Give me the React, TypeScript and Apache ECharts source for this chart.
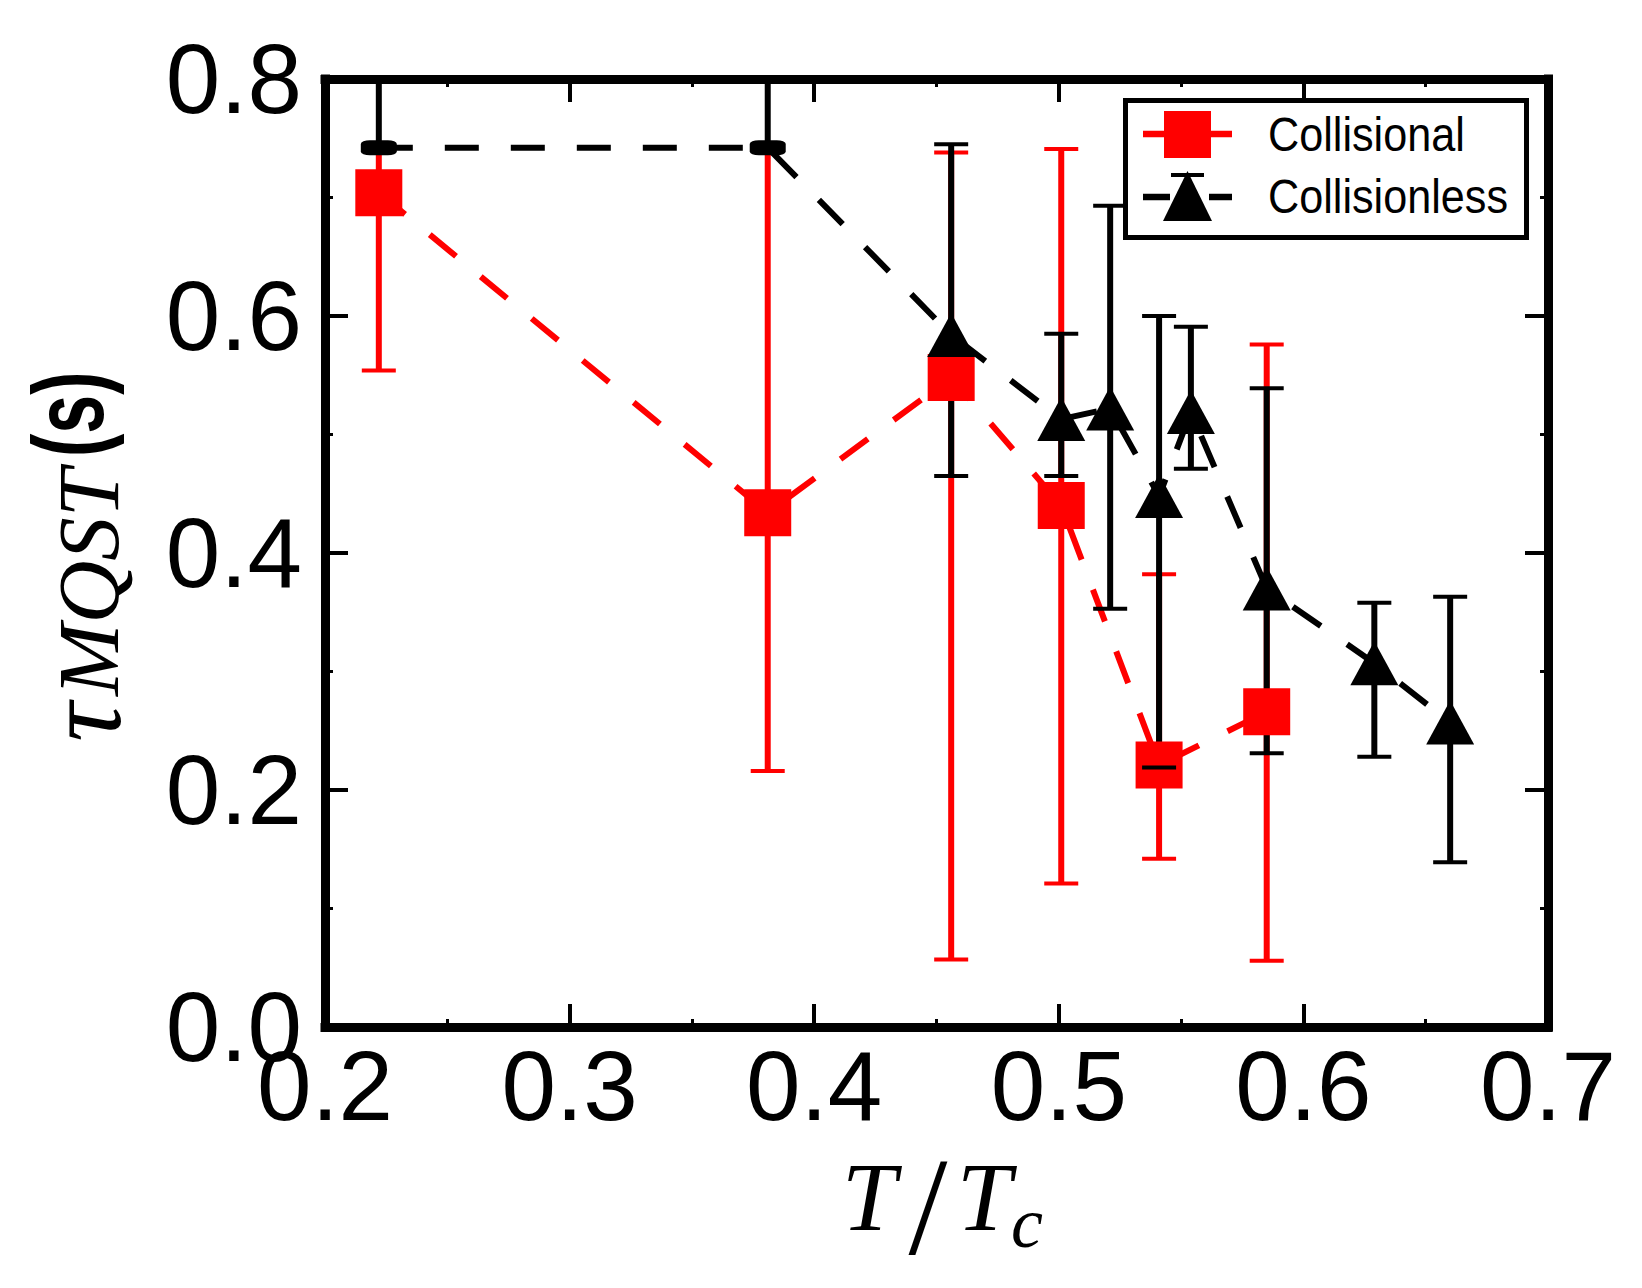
import React, { useEffect, useRef } from 'react';
import * as echarts from 'echarts';

// ---- data ----
const xTicksMin = 0.2;
const xTicksMax = 0.7;
const yTicksMin = 0.0;
const yTicksMax = 0.8;

// Collisional (red squares)
const xRed = [0.222, 0.381, 0.456, 0.501, 0.541, 0.585];
const yRed = [0.704, 0.434, 0.548, 0.440, 0.221, 0.266];
const redLow = [0.554, 0.216, 0.057, 0.121, 0.142, 0.056];
const redHigh = [0.742, 0.742, 0.738, 0.741, 0.382, 0.576];

// Collisionless (black triangles)
const xBlack = [0.222, 0.381, 0.456, 0.501, 0.521, 0.541, 0.554, 0.585, 0.629, 0.660];
const yBlack = [0.742, 0.742, 0.584, 0.513, 0.522, 0.448, 0.519, 0.370, 0.307, 0.257];
const blackLow = [0.742, 0.742, 0.465, 0.465, 0.353, 0.219, 0.471, 0.231, 0.228, 0.139];
const blackHigh = [0.9, 0.9, 0.745, 0.585, 0.693, 0.600, 0.591, 0.539, 0.358, 0.363];
const blackMarker = ['flat', 'flat', 'tri', 'tri', 'tri', 'tri', 'tri', 'tri', 'tri', 'tri'];

const seriesNames = ['Collisional', 'Collisionless'];

const RED = '#ff0000';
const BLACK = '#000000';
const SANS = 'Liberation Sans';
const SERIF = 'Liberation Serif';

function errRender(color: string, stem: boolean, cap: boolean) {
  return (params: any, api: any) => {
    const x = api.value(0);
    const lo = api.value(1);
    const hi = api.value(2);
    const loC = Math.max(lo, yTicksMin);
    const hiC = Math.min(hi, yTicksMax);
    const pLo = api.coord([x, loC]);
    const pHi = api.coord([x, hiC]);
    const children: any[] = [];
    if (stem) {
      children.push({
        type: 'line',
        shape: { x1: pLo[0], y1: pLo[1], x2: pHi[0], y2: pHi[1] },
        style: { stroke: color, lineWidth: 6 },
      });
    }
    if (cap) {
      const hw = 17;
      if (hi <= yTicksMax) {
        children.push({
          type: 'line',
          shape: { x1: pHi[0] - hw, y1: pHi[1], x2: pHi[0] + hw, y2: pHi[1] },
          style: { stroke: color, lineWidth: 4 },
        });
      }
      if (lo >= yTicksMin) {
        children.push({
          type: 'line',
          shape: { x1: pLo[0] - hw, y1: pLo[1], x2: pLo[0] + hw, y2: pLo[1] },
          style: { stroke: color, lineWidth: 4 },
        });
      }
    }
    return { type: 'group', children };
  };
}

export default function App() {
  const ref = useRef<HTMLDivElement>(null);

  useEffect(() => {
    const chart = echarts.init(ref.current as HTMLDivElement, null, { renderer: 'svg' });

    const redErrData = xRed.map((x, i) => [x, redLow[i], redHigh[i]]);
    const blackErrData = xBlack.map((x, i) => [x, blackLow[i], blackHigh[i]]);
    const redData = xRed.map((x, i) => [x, yRed[i]]);
    const blackData = xBlack.map((x, i) =>
      blackMarker[i] === 'flat'
        ? { value: [x, yBlack[i]], symbol: 'roundRect', symbolSize: [36, 15] }
        : { value: [x, yBlack[i]] }
    );

    const axisCommon = {
      axisLine: { show: true, onZero: false, lineStyle: { color: BLACK, width: 9, cap: 'square' } },
      axisTick: { show: true, inside: true, length: 23, lineStyle: { color: BLACK, width: 4 } },
      minorTick: { show: true, splitNumber: 2, length: 8, lineStyle: { color: BLACK, width: 3 } },
      splitLine: { show: false },
      minorSplitLine: { show: false },
    };

    const labelStyle = {
      color: BLACK,
      fontFamily: SANS,
      fontSize: 98,
      formatter: (v: number) => v.toFixed(1),
    };

    const option: any = {
      animation: false,
      backgroundColor: '#ffffff',
      grid: { left: 325, right: 94, top: 79, bottom: 261, containLabel: false },
      xAxis: [
        {
          type: 'value', min: xTicksMin, max: xTicksMax, interval: 0.1, position: 'bottom',
          ...axisCommon,
          axisLabel: { ...labelStyle, margin: 10 },
        },
        {
          type: 'value', min: xTicksMin, max: xTicksMax, interval: 0.1, position: 'top',
          ...axisCommon,
          axisLabel: { show: false },
        },
      ],
      yAxis: [
        {
          type: 'value', min: yTicksMin, max: yTicksMax, interval: 0.2, position: 'left',
          ...axisCommon,
          axisLabel: { ...labelStyle, margin: 23 },
        },
        {
          type: 'value', min: yTicksMin, max: yTicksMax, interval: 0.2, position: 'right',
          ...axisCommon,
          axisLabel: { show: false },
        },
      ],
      series: [
        {
          type: 'custom', name: seriesNames[0] + ' error', z: 1,
          xAxisIndex: 0, yAxisIndex: 0,
          renderItem: errRender(RED, true, true),
          encode: { x: 0, y: [1, 2] },
          data: redErrData,
          silent: true,
        },
        {
          type: 'custom', name: seriesNames[1] + ' error stem', z: 2,
          xAxisIndex: 0, yAxisIndex: 0,
          renderItem: errRender(BLACK, true, false),
          encode: { x: 0, y: [1, 2] },
          data: blackErrData,
          silent: true,
        },
        {
          type: 'line', name: seriesNames[0], z: 3,
          xAxisIndex: 0, yAxisIndex: 0,
          data: redData,
          symbol: 'rect', symbolSize: 47,
          itemStyle: { color: RED, borderWidth: 0 },
          lineStyle: { color: RED, width: 6, type: [34, 32] },
          silent: true,
        },
        {
          type: 'custom', name: seriesNames[1] + ' error cap', z: 4,
          xAxisIndex: 0, yAxisIndex: 0,
          renderItem: errRender(BLACK, false, true),
          encode: { x: 0, y: [1, 2] },
          data: blackErrData,
          silent: true,
        },
        {
          type: 'line', name: seriesNames[1], z: 5,
          xAxisIndex: 0, yAxisIndex: 0,
          data: blackData,
          symbol: 'triangle', symbolSize: [48, 44],
          itemStyle: { color: BLACK, borderWidth: 0 },
          lineStyle: { color: BLACK, width: 6, type: [34, 32] },
          silent: true,
        },
      ],
      graphic: [
        // x-axis title  T/T_c
        {
          type: 'text', x: 869, y: 1197, z: 100,
          style: { text: 'T', fontSize: 98, fontFamily: SERIF, fontStyle: 'italic', fill: BLACK, align: 'center', verticalAlign: 'middle' },
        },
        {
          type: 'text', x: 928, y: 1206, z: 100,
          style: { text: '/', fontSize: 140, fontFamily: SERIF, fill: BLACK, align: 'center', verticalAlign: 'middle' },
        },
        {
          type: 'text', x: 984, y: 1197, z: 100,
          style: { text: 'T', fontSize: 98, fontFamily: SERIF, fontStyle: 'italic', fill: BLACK, align: 'center', verticalAlign: 'middle' },
        },
        {
          type: 'text', x: 1011, y: 1222.5, z: 100,
          style: { text: 'c', fontSize: 72, fontFamily: SERIF, fontStyle: 'italic', fill: BLACK, align: 'left', verticalAlign: 'middle' },
        },
        // y-axis title  tau_MQST (s)
        {
          type: 'group', x: 0, y: 740, rotation: Math.PI / 2, z: 100,
          children: [
            {
              type: 'text', x: -2, y: 120 - 0.34 * 110,
              style: { text: 'τ', fontSize: 110, fontFamily: SERIF, fontStyle: 'italic', fill: BLACK, align: 'left', verticalAlign: 'middle' },
            },
            {
              type: 'text', x: 44, y: 118 - 0.34 * 87,
              style: { text: 'MQST', fontSize: 87, fontFamily: SERIF, fontStyle: 'italic', fill: BLACK, align: 'left', verticalAlign: 'middle' },
            },
            {
              type: 'text', x: 283, y: 103 - 0.3465 * 100, scaleX: 0.7,
              style: { text: '(s)', fontSize: 100, fontFamily: SANS, fontWeight: 'bold', fill: BLACK, align: 'left', verticalAlign: 'middle' },
            },
          ],
        },
        // legend
        {
          type: 'rect', z: 100,
          shape: { x: 1125.5, y: 100.5, width: 401, height: 137 },
          style: { fill: '#ffffff', stroke: BLACK, lineWidth: 5 },
        },
        {
          type: 'line', z: 101,
          shape: { x1: 1143, y1: 134, x2: 1232, y2: 134 },
          style: { stroke: RED, lineWidth: 6.5 },
        },
        {
          type: 'rect', z: 102,
          shape: { x: 1164, y: 111, width: 47, height: 47 },
          style: { fill: RED },
        },
        {
          type: 'line', z: 101,
          shape: { x1: 1143, y1: 197, x2: 1170, y2: 197 },
          style: { stroke: BLACK, lineWidth: 6.5 },
        },
        {
          type: 'line', z: 101,
          shape: { x1: 1209, y1: 197, x2: 1232, y2: 197 },
          style: { stroke: BLACK, lineWidth: 6.5 },
        },
        {
          type: 'line', z: 101,
          shape: { x1: 1171, y1: 175, x2: 1204, y2: 175 },
          style: { stroke: BLACK, lineWidth: 4 },
        },
        {
          type: 'polygon', z: 102,
          shape: { points: [[1187.5, 171], [1163, 221], [1212, 221]] },
          style: { fill: BLACK },
        },
        {
          type: 'text', x: 1268, y: 134.5, scaleX: 0.9, z: 102,
          style: { text: seriesNames[0], fontSize: 48, fontFamily: SANS, fill: BLACK, align: 'left', verticalAlign: 'middle' },
        },
        {
          type: 'text', x: 1268, y: 196.5, scaleX: 0.9, z: 102,
          style: { text: seriesNames[1], fontSize: 48, fontFamily: SANS, fill: BLACK, align: 'left', verticalAlign: 'middle' },
        },
      ],
    };

    chart.setOption(option);
    return () => chart.dispose();
  }, []);

  return (
    <div
      ref={ref}
      style={{ position: 'fixed', left: 0, top: 0, width: 1642, height: 1288, background: '#ffffff' }}
    />
  );
}
